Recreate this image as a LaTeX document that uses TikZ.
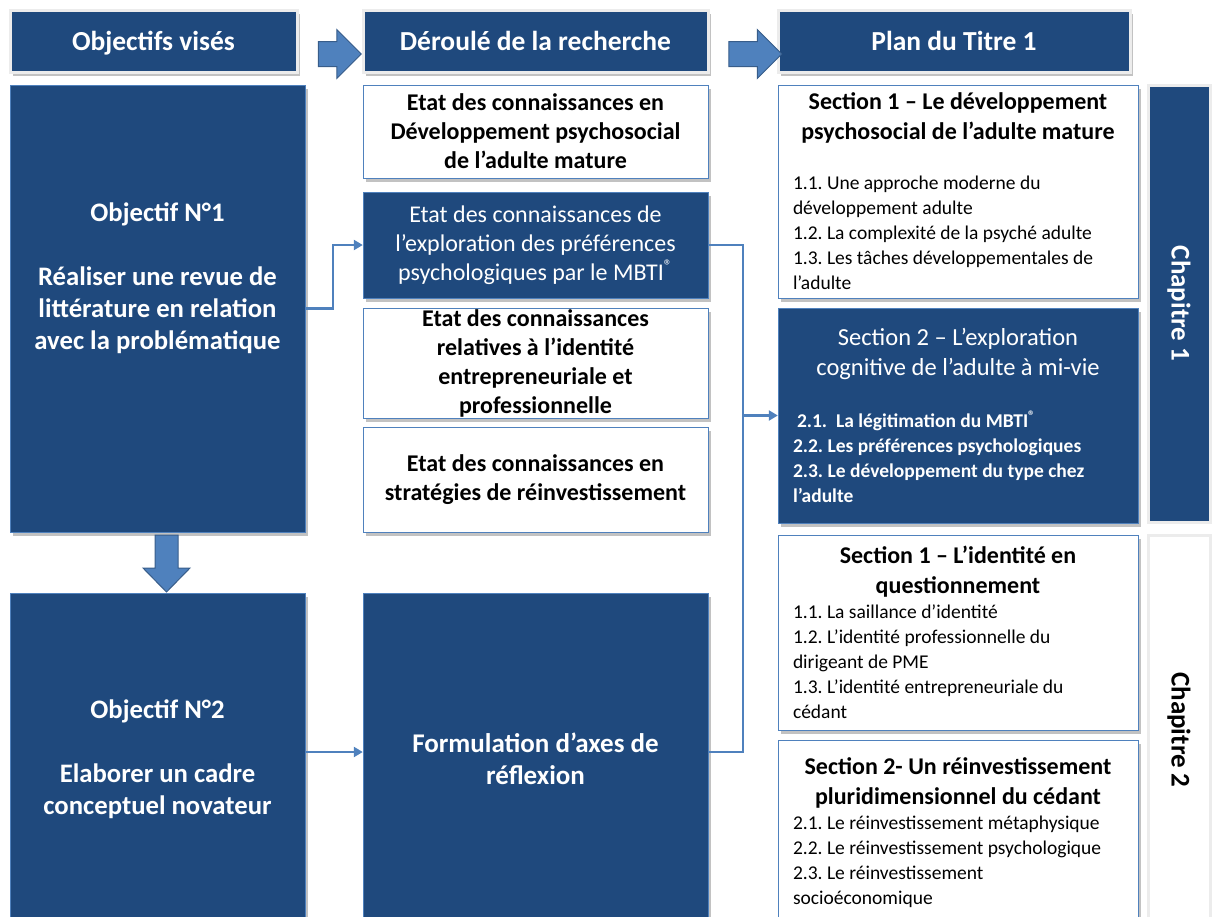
\documentclass[tikz,border=0pt]{standalone}
\usepackage{fontspec}
\setmainfont{Carlito}
\usetikzlibrary{shapes.arrows,shadows,arrows.meta}
\definecolor{navy}{RGB}{31,73,125}
\definecolor{edgeblue}{RGB}{79,129,189}
\definecolor{arrowedge}{RGB}{56,93,138}
\frenchspacing

\begin{document}
\begin{tikzpicture}[x=1pt, y=-1pt,
    boxshadow/.style={drop shadow={shadow xshift=3pt, shadow yshift=-4pt, fill=gray!80, opacity=.6}},
    headbox/.style={rectangle, draw=gray!15, line width=3pt, fill=navy, text=white, boxshadow, font=\fontsize{27.5}{32}\selectfont\bfseries, text height=22pt, text depth=3pt, minimum height=62pt},
    objbox/.style={rectangle, draw=edgeblue, thin, fill=navy, text=white, boxshadow, font=\fontsize{26.7}{32}\selectfont\bfseries, minimum width=295pt, text width=285pt, inner ysep=0pt, align=flush center},
    midbox/.style={rectangle, draw=edgeblue, thin, fill=white, boxshadow, font=\fontsize{24}{29}\selectfont\bfseries, minimum width=345pt, text width=338pt, inner ysep=0pt, align=flush center},
    midboxdark/.style={midbox, fill=navy, text=white},
    secbox/.style={rectangle, draw=edgeblue, thin, fill=white, boxshadow, font=\fontsize{19.5}{25}\selectfont, minimum width=360pt, text width=330pt, inner ysep=1pt, align=flush left},
    secboxdark/.style={secbox, fill=navy, text=white},
    chapbox/.style={rectangle, draw=gray!15, line width=3pt, fill=navy, text=white, rotate=-90, font=\fontsize{27}{30}\selectfont\bfseries, minimum height=62pt},
    blockarrow/.style={single arrow, fill=edgeblue, draw=arrowedge, line width=1pt, inner xsep=0pt, inner ysep=12pt, single arrow head extend=12pt, minimum width=48pt},
    downarrow/.style={fill=edgeblue, draw=arrowedge, line width=1pt, line join=miter},
    link/.style={-{Triangle[length=9pt,width=10pt]}, draw=edgeblue, line width=2.5pt},
    busline/.style={draw=edgeblue, line width=2.5pt}
]
    \useasboundingbox (0,0) rectangle (1213,916);

    % en-tetes
    \node[headbox, minimum width=287pt] (hobj) at (153.5,41) {Objectifs visés};
    \node[headbox, minimum width=345pt] (hder) at (535.5,41) {Déroulé de la recherche};
    \node[headbox, minimum width=352pt] (hplan) at (954,41) {Plan du Titre 1};
    \node[blockarrow, minimum height=43pt] (arrA) at (333.5,54) {};
    \node[blockarrow, minimum height=53pt] (arrB) at (749,54) {};

    % objectifs
    \node[objbox, minimum height=447pt] (obj1) at (157.5,308.5) {Objectif N°1\\[32pt] Réaliser une revue de\\ littérature en relation\\ avec la problématique\\[32pt]\mbox{}};
    \node[objbox, minimum height=332pt] (obj2) at (157.5,759) {Objectif N°2\\[32pt] Elaborer un cadre\\ conceptuel novateur};
    \draw[downarrow] (155,535) -- (178,535) -- (178,568) -- (190,568) -- (166.5,592) -- (143,568) -- (155,568) -- cycle;

    % deroule
    \node[midbox, minimum height=93pt] (midA) at (535.5,131.5) {Etat des connaissances en\\ Développement psychosocial\\ de l’adulte mature};
    \node[midboxdark, minimum height=106pt] (midB) at (535.5,245) {\mdseries Etat des connaissances de\\ l’exploration des préférences\\ psychologiques par le MBTI\textsuperscript{®}};
    \node[midbox, minimum height=110pt] (midC) at (535.5,363) {Etat des connaissances\\ relatives à l’identité\\ entrepreneuriale et\\ professionnelle};
    \node[midbox, minimum height=105pt] (midD) at (535.5,479.5) {Etat des connaissances en\\ stratégies de réinvestissement};
    \node[midboxdark, minimum height=332pt, font=\fontsize{27}{32}\selectfont\bfseries] (midE) at (535.5,759) {Formulation d’axes de\\ réflexion};

    % plan
    \node[secbox, minimum height=213pt] (sec11) at (958,191.5) {{\centering\fontsize{24}{30}\selectfont\bfseries Section 1 – Le développement\\ psychosocial de l’adulte mature\par}\vspace{25pt}1.1. Une approche moderne du\\ développement adulte\\ 1.2. La complexité de la psyché adulte\\ 1.3. Les tâches développementales de\\ l’adulte};
    \node[secboxdark, minimum height=215pt] (sec12) at (958,415.5) {{\centering\fontsize{24.5}{30}\selectfont Section 2 – L’exploration\\ cognitive de l’adulte à mi-vie\par}\vspace{27pt}\bfseries\hspace*{4pt}2.1.\ \ La légitimation du MBTI\textsuperscript{®}\\ 2.2. Les préférences psychologiques\\ 2.3. Le développement du type chez\\ l’adulte};
    \node[secbox, minimum height=195pt] (sec21) at (958,632.5) {{\centering\fontsize{24}{30}\selectfont\bfseries Section 1 – L’identité en\\ questionnement\par}1.1. La saillance d’identité\\ 1.2. L’identité professionnelle du\\ dirigeant de PME\\ 1.3. L’identité entrepreneuriale du\\ cédant};
    \node[secbox, minimum height=185pt] (sec22) at (958,832.5) {{\centering\fontsize{24}{30}\selectfont\bfseries Section 2- Un réinvestissement\\ pluridimensionnel du cédant\par}2.1. Le réinvestissement métaphysique\\ 2.2. Le réinvestissement psychologique\\ 2.3. Le réinvestissement\\ socioéconomique};
    \node[chapbox, minimum width=437pt] (chap1) at (1179,303.5) {Chapitre 1};
    \node[chapbox, fill=white, text=black, minimum width=390pt] (chap2) at (1179,730) {Chapitre 2};

    % liaisons
    \coordinate (bus) at (743,415.5);
    \draw[link] (obj1.east) -- ++(28,0) |- (midB.west);
    \draw[link] ([yshift=7pt]obj2.east) -- ([yshift=7pt]midE.west);
    \draw[busline] (midB.east) -| (bus);
    \draw[busline] ([yshift=7pt]midE.east) -| (bus);
    \draw[link] (bus) -- (sec12.west);
\end{tikzpicture}
\end{document}
